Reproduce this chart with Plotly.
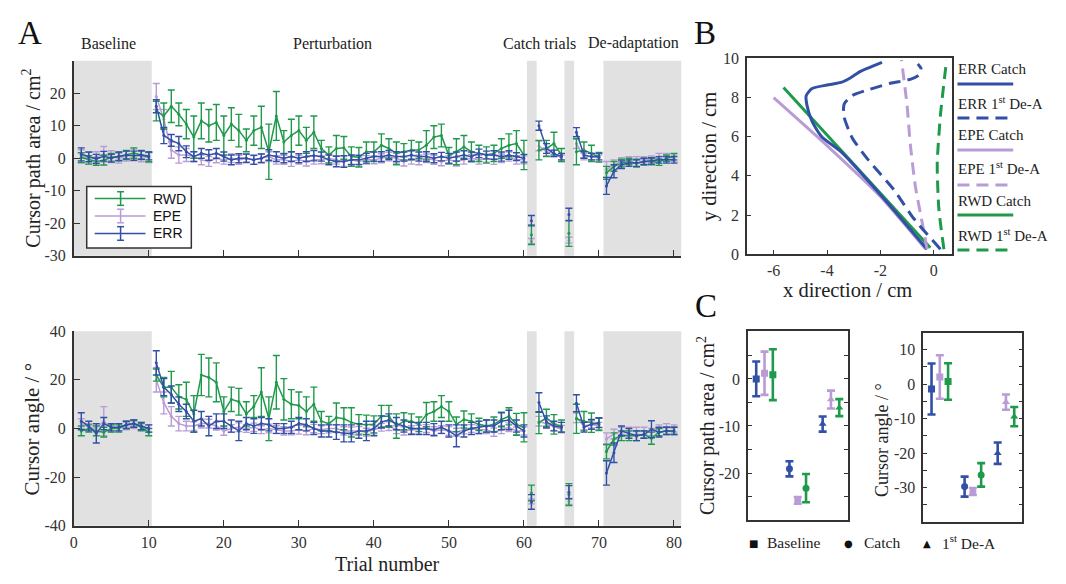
import plotly.graph_objects as go

W, H = 1066, 584
OFF = 8  # the page body adds an 8 px margin; positions below are target pixels
GREEN = "#1f9a4b"
PURPLE = "#b99bd6"
BLUE = "#3150a6"
AX = "#333333"
SERIF = "Liberation Serif"
SANS = "Liberation Sans"

# ---------------- Panel A data (trials 1..80) ----------------
trials = list(range(1, 81))
segments = [(1, 10), (11, 60), (61, 61), (62, 65), (66, 66), (67, 70), (71, 80)]
phase_shading = [(0, 10.4), (60.4, 61.7), (65.4, 66.7), (70.6, 81)]
phase_labels = ["Baseline", "Perturbation", "Catch trials", "De-adaptation"]

area_rwd = [0.2, -0.5, -1.0, -0.6, 0.3, 0.5, 1.0, 1.6, 1.0, 0.4,
            14.5, 13.0, 16.0, 13.5, 10.5, 6.5, 11.5, 10.0, 11.0, 7.0,
            10.5, 8.5, 5.5, 8.5, 9.5, 2.0, 13.0, 5.0, 7.0, 8.5,
            5.5, 8.0, 3.0, 1.0, 3.0, 3.2, 0.5, 0.3, 2.0, 2.0,
            4.0, 3.0, 1.5, 2.0, 2.5, 2.5, 4.0, 6.5, 7.0, 0.8,
            2.0, 3.5, 2.0, 1.5, 1.0, 1.5, 3.0, 4.0, 4.5, 1.0,
            -23.5, 2.5, 3.0, 4.5, 1.0, -23.1, 2.0, 2.5, 1.5, 0.3,
            -4.5, -2.5, -1.5, -1.0, -1.5, -1.0, -1.0, -1.2, 0.0, 0.5]
area_rwd_err = [1.5, 1.3, 1.2, 1.5, 1.2, 1.3, 1.4, 1.6, 1.4, 1.5,
                3.0, 4.0, 5.0, 3.5, 4.5, 6.5, 5.5, 5.0, 5.5, 6.0,
                5.0, 5.0, 3.5, 4.5, 6.5, 8.5, 7.5, 3.5, 5.0, 4.5,
                4.0, 5.0, 2.5, 2.5, 4.0, 3.5, 3.0, 3.0, 3.0, 3.0,
                3.5, 3.0, 3.5, 2.5, 3.0, 2.5, 4.5, 3.5, 3.5, 2.5,
                4.0, 3.5, 3.0, 2.5, 2.5, 2.5, 3.0, 3.5, 4.0, 4.5,
                3.0, 3.0, 2.5, 3.5, 2.0, 4.0, 4.0, 2.5, 2.5, 1.5,
                2.0, 1.5, 1.2, 1.0, 1.2, 1.0, 1.0, 1.0, 1.0, 1.0]
area_epe = [0.6, 0.0, 0.4, 1.2, 0.5, 0.0, 0.6, 1.0, 0.5, 0.2,
            19.0, 12.0, 2.5, 1.0, 1.0, 0.5, -0.5, -1.0, 0.0, -0.5,
            0.0, -0.5, 0.0, -0.5, 0.0, 0.5, -0.5, -0.5, -1.0, -0.5,
            -1.0, -0.5, -0.5, 0.0, -0.5, -1.0, -0.5, -1.0, -0.5, -0.5,
            0.0, 0.5, 0.0, -1.0, -0.5, -0.5, 0.0, -0.5, -1.0, -0.5,
            -1.0, -0.5, 0.0, -0.5, 0.0, -0.5, 0.0, 0.5, -0.5, -0.5,
            -25.5, 3.8, 2.0, 1.5, 0.0, -25.2, 4.5, 0.5, 0.5, 0.0,
            -3.5, -2.0, -1.0, -0.5, -0.5, -0.5, -0.3, 0.5, 0.5, 0.0]
area_epe_err = [2.0, 1.8, 1.6, 2.4, 1.8, 1.5, 1.5, 1.8, 1.6, 1.5,
                4.0, 3.0, 2.5, 2.5, 2.0, 1.5, 1.5, 1.5, 1.4, 1.3,
                1.3, 1.4, 1.2, 1.3, 1.4, 1.5, 1.3, 1.4, 1.5, 1.3,
                1.4, 1.3, 1.2, 1.4, 1.3, 1.5, 1.3, 1.4, 1.3, 1.2,
                1.4, 1.3, 1.5, 1.4, 1.3, 1.5, 1.3, 1.4, 1.3, 1.2,
                1.4, 1.3, 1.2, 1.3, 1.2, 1.4, 1.3, 1.4, 1.3, 1.2,
                0.8, 1.5, 1.2, 1.0, 1.0, 0.9, 1.5, 1.0, 1.0, 1.0,
                2.5, 1.5, 1.2, 1.0, 1.0, 1.0, 1.0, 1.0, 1.0, 1.0]
area_err = [1.2, 0.4, -0.2, 0.6, 0.0, 0.6, 1.0, 0.8, 1.0, 0.7,
            16.0, 7.0, 5.5, 4.5, 2.0, 0.5, 1.5, 1.0, 1.5, 0.5,
            -0.5, 0.0, 0.0, -0.5, 0.0, 1.0, 0.5, 0.0, 0.5, 0.0,
            0.5, 0.8, 0.5, -0.5, -1.0, -1.0, -0.5, -0.5, 0.0, 0.5,
            0.5, 1.0, 0.5, 0.5, 1.0, 0.5, 0.5, 0.0, 0.5, 0.0,
            0.5, 1.0, 0.5, 1.5, 1.0, 1.0, 0.5, 1.0, 0.5, 0.0,
            -19.2, 10.0, 3.0, 1.5, 0.5, -17.3, 8.0, 1.0, 0.5, 0.5,
            -8.5, -4.0, -2.0, -1.5, -1.5, -1.0, -0.8, -0.5, -0.5, -0.5]
area_err_err = [2.0, 1.5, 1.4, 1.5, 1.2, 1.3, 1.2, 1.4, 1.3, 1.2,
                2.0, 2.5, 1.8, 2.2, 1.8, 1.5, 1.5, 1.6, 1.5, 1.4,
                1.5, 1.4, 1.3, 1.4, 1.3, 1.6, 1.5, 1.4, 1.5, 1.4,
                1.5, 1.6, 1.4, 1.5, 1.6, 1.8, 1.5, 1.4, 1.5, 1.4,
                1.5, 1.4, 1.5, 1.4, 1.3, 1.4, 1.5, 1.4, 1.3, 1.5,
                1.4, 1.3, 1.4, 1.3, 1.2, 1.3, 1.4, 1.3, 1.2, 1.2,
                1.6, 1.4, 1.5, 1.0, 1.0, 1.9, 1.4, 1.0, 1.0, 1.0,
                2.6, 2.0, 1.2, 1.0, 1.0, 1.0, 1.0, 1.0, 1.0, 1.0]

angle_rwd = [-1.0, 0.0, -1.0, -1.5, 0.0, 0.0, 1.5, 2.0, 0.5, -1.5,
             22.0, 17.0, 17.0, 13.0, 12.0, 6.0, 22.0, 21.0, 19.0, 7.0,
             12.0, 11.0, 6.0, 9.0, 15.0, 4.0, 19.0, 12.0, 10.0, 9.5,
             7.0, 10.0, 3.0, 2.0, 4.5, 4.0, 2.5, 1.7, 1.5, 1.7,
             5.0, 5.0, 1.0, 3.0, 3.0, 1.7, 5.7, 7.0, 9.0, 7.0,
             1.7, 3.7, 3.0, 1.7, 1.0, 1.7, 3.7, 5.0, 1.7, 0.5,
             -26.5, 2.4, 4.4, 1.7, 1.0, -27.2, 4.0, 3.0, 2.4, 1.7,
             -9.5, -4.3, -3.0, -3.0, -3.0, -2.5, -4.0, -1.5, -1.0, -1.0]
angle_rwd_err = [2.0, 1.5, 2.0, 2.0, 1.5, 1.5, 1.5, 1.5, 1.5, 1.5,
                 2.5, 4.0, 6.5, 5.0, 7.0, 7.5, 8.5, 8.0, 8.0, 6.0,
                 5.0, 5.5, 5.0, 4.5, 10.0, 9.0, 11.0, 8.5, 6.0, 5.5,
                 6.0, 7.0, 4.0, 3.0, 6.0, 4.5, 6.0, 4.0, 4.0, 3.5,
                 4.5, 4.5, 5.0, 3.5, 3.0, 3.0, 5.0, 4.0, 4.5, 4.0,
                 3.0, 3.5, 3.0, 2.5, 2.5, 3.0, 3.0, 3.5, 4.5, 6.0,
                 3.2, 4.5, 3.5, 4.0, 2.5, 4.5, 6.0, 4.0, 4.0, 2.5,
                 3.0, 2.5, 2.0, 2.0, 2.0, 1.5, 2.5, 1.5, 1.5, 1.5]
angle_epe = [2.0, 0.5, 0.0, 3.0, 0.0, 0.5, 1.0, 1.5, 1.0, 0.0,
             20.0, 10.5, 5.0, 2.0, 1.0, 1.0, 2.0, 2.0, 1.0, -1.0,
             0.0, 0.5, 0.0, 0.5, -0.5, 0.0, -0.5, -1.0, -1.0, -0.5,
             -1.0, 0.0, -0.5, 0.0, 0.0, -1.0, -1.0, -1.0, -1.5, -0.5,
             0.5, 1.0, -0.5, -1.0, -0.5, -0.5, 0.0, -1.0, -0.5, -1.0,
             -1.5, -0.5, 0.0, -0.5, -0.5, -1.5, -0.5, 0.5, -1.0, -1.0,
             -30.0, 3.0, 2.0, 0.7, -0.3, -30.0, 4.4, 1.0, 1.7, 1.0,
             -4.3, -2.3, -1.0, -1.0, -1.0, -1.0, -1.5, 0.0, 0.5, 0.0]
angle_epe_err = [2.0, 1.5, 1.5, 6.0, 1.5, 1.5, 1.5, 1.5, 1.5, 1.5,
                 5.0, 4.5, 4.0, 3.0, 2.0, 1.8, 1.8, 1.8, 1.6, 1.8,
                 1.6, 1.8, 1.6, 1.7, 1.6, 1.8, 1.6, 1.7, 1.6, 1.8,
                 1.6, 1.7, 1.6, 1.8, 1.6, 1.7, 1.6, 1.8, 1.6, 1.7,
                 1.6, 1.8, 1.6, 1.7, 1.6, 1.8, 1.6, 1.7, 1.6, 1.8,
                 1.6, 1.7, 1.6, 1.8, 1.6, 1.7, 1.6, 1.8, 1.6, 1.7,
                 1.0, 2.0, 1.5, 1.5, 1.5, 1.2, 2.0, 1.5, 1.5, 1.5,
                 2.5, 2.0, 1.5, 1.5, 1.5, 1.5, 1.5, 1.5, 1.5, 1.5]
angle_err = [3.0, 1.0, -2.0, 2.0, 0.5, 0.5, 1.5, 2.0, 1.0, 0.0,
             27.0, 17.0, 14.0, 10.0, 7.0, 3.0, 4.0, 1.0, 3.0, 3.0,
             1.0, -1.0, 2.0, 1.0, 2.0, 1.5, 0.0, 0.0, 0.5, 2.0,
             1.5, 0.0, -1.0, -1.0, -1.5, -2.0, -2.0, -1.0, -1.0, 0.0,
             2.7, 3.5, 2.0, 1.0, 0.0, 0.0, 0.0, -0.5, 0.5, -1.0,
             -3.0, -1.0, 0.0, 0.5, 1.0, 1.0, 3.0, 3.5, 1.0, -1.0,
             -30.2, 10.7, 2.7, 1.0, 0.5, -26.2, 10.4, 0.5, 1.7, 2.4,
             -18.3, -10.0, -1.0, -2.0, -3.0, -2.5, -0.3, -1.5, -1.0, -1.0]
angle_err_err = [3.5, 2.0, 4.0, 2.5, 1.5, 1.5, 1.5, 1.5, 1.5, 1.5,
                 5.0, 3.5, 3.5, 3.0, 3.0, 4.5, 3.0, 4.0, 3.0, 3.0,
                 2.5, 4.0, 2.5, 3.0, 2.5, 2.5, 2.0, 2.0, 2.5, 2.5,
                 2.5, 2.5, 2.5, 2.5, 3.0, 3.5, 3.5, 3.0, 4.0, 3.0,
                 2.5, 2.5, 2.5, 2.5, 2.5, 2.5, 2.5, 2.5, 2.5, 2.5,
                 4.5, 2.5, 2.5, 2.5, 2.5, 2.5, 3.5, 4.0, 2.5, 2.5,
                 3.0, 4.0, 2.5, 2.0, 2.0, 2.7, 3.5, 2.0, 2.0, 2.0,
                 5.0, 4.0, 2.0, 2.0, 2.0, 1.5, 3.5, 2.0, 1.5, 1.5]

# ---------------- Panel B data (trajectories, cm) ----------------
err_catch_x = [-0.25, -1.85, -3.45, -4.2, -4.56, -4.75, -4.78, -4.56, -4.0, -3.44, -3.13, -2.75, -2.31, -1.94]
err_catch_y = [0.25, 2.81, 5.2, 6.0, 6.78, 7.6, 8.1, 8.46, 8.64, 8.79, 9.0, 9.34, 9.59, 9.8]
err_dea_x = [0.25, -0.75, -1.5, -2.44, -3.06, -3.38, -3.35, -3.06, -2.38, -1.63, -0.88, -0.53, -0.48, -0.6]
err_dea_y = [0.25, 1.82, 3.3, 4.79, 5.95, 7.1, 7.69, 8.1, 8.43, 8.73, 8.93, 9.17, 9.5, 9.72]
epe_catch_x = [-0.3, -2.0, -4.0, -6.0]
epe_catch_y = [0.25, 2.95, 5.55, 8.0]
epe_dea_x = [-0.25, -0.44, -0.69, -0.88, -1.0, -1.21]
epe_dea_y = [0.25, 1.65, 3.47, 5.62, 7.6, 9.92]
rwd_catch_x = [-0.13, -5.63]
rwd_catch_y = [0.33, 8.51]
rwd_dea_x = [0.38, 0.19, 0.13, 0.25, 0.48]
rwd_dea_y = [0.25, 2.31, 4.63, 7.1, 9.92]
b_legend = ["ERR Catch", "ERR 1<sup>st</sup> De-A", "EPE Catch",
            "EPE 1<sup>st</sup> De-A", "RWD Catch", "RWD 1<sup>st</sup> De-A"]

# ---------------- Panel C data ----------------
c_groups = ["Baseline", "Catch", "1<sup>st</sup> De-A"]
c_area_err = [0.0, -19.1, -9.6];  c_area_err_e = [3.7, 1.6, 1.6]
c_area_epe = [1.2, -25.8, -4.4];  c_area_epe_e = [4.6, 0.7, 1.9]
c_area_rwd = [0.9, -23.2, -6.1];  c_area_rwd_e = [5.4, 3.0, 1.8]
c_ang_err = [-1.4, -29.7, -20.0]; c_ang_err_e = [7.4, 2.9, 3.1]
c_ang_epe = [2.1, -31.1, -5.2];   c_ang_epe_e = [6.3, 1.0, 2.2]
c_ang_rwd = [0.8, -26.3, -9.4];   c_ang_rwd_e = [5.3, 3.4, 2.8]
c_symbols = ["square", "circle", "triangle-up"]


def px(x):
    return (x - OFF) / W


def py(y):
    return 1 - (y - OFF) / H


def seg(vals):
    out = []
    for a, b in segments:
        out += [vals[t - 1] for t in range(a, b + 1)] + [None]
    return out


def seg_err(vals):
    out = []
    for a, b in segments:
        out += [vals[t - 1] for t in range(a, b + 1)] + [0]
    return out


seg_x = seg(trials)

fig = go.Figure()

# Panel A traces
for (m, e, c, name), (xa, ya) in [
    ((area_epe, area_epe_err, PURPLE, "EPE"), ("x", "y")),
    ((area_rwd, area_rwd_err, GREEN, "RWD"), ("x", "y")),
    ((area_err, area_err_err, BLUE, "ERR"), ("x", "y")),
    ((angle_epe, angle_epe_err, PURPLE, "EPE"), ("x2", "y2")),
    ((angle_rwd, angle_rwd_err, GREEN, "RWD"), ("x2", "y2")),
    ((angle_err, angle_err_err, BLUE, "ERR"), ("x2", "y2")),
]:
    fig.add_trace(go.Scatter(
        x=seg_x, y=seg(m), mode="lines+markers", name=name,
        xaxis=xa, yaxis=ya, showlegend=False, connectgaps=False,
        line=dict(color=c, width=1.5), marker=dict(color=c, size=3),
        error_y=dict(type="data", array=seg_err(e), visible=True,
                     color=c, thickness=1.4, width=3.5)))

# Panel B traces
for xs, ys, c, dash in [
    (epe_catch_x, epe_catch_y, PURPLE, "solid"),
    (rwd_catch_x, rwd_catch_y, GREEN, "solid"),
    (err_catch_x, err_catch_y, BLUE, "solid"),
    (epe_dea_x, epe_dea_y, PURPLE, "12px,7px"),
    (rwd_dea_x, rwd_dea_y, GREEN, "12px,7px"),
    (err_dea_x, err_dea_y, BLUE, "12px,7px"),
]:
    fig.add_trace(go.Scatter(
        x=xs, y=ys, mode="lines", xaxis="x3", yaxis="y3", showlegend=False,
        line=dict(color=c, width=3, dash=dash, shape="spline", smoothing=0.6)))

# Panel C traces
offsets = {"ERR": -0.25, "EPE": 0.0, "RWD": 0.25}
for xa, ya, data in [
    ("x4", "y4", [("ERR", c_area_err, c_area_err_e, BLUE),
                  ("EPE", c_area_epe, c_area_epe_e, PURPLE),
                  ("RWD", c_area_rwd, c_area_rwd_e, GREEN)]),
    ("x5", "y5", [("ERR", c_ang_err, c_ang_err_e, BLUE),
                  ("EPE", c_ang_epe, c_ang_epe_e, PURPLE),
                  ("RWD", c_ang_rwd, c_ang_rwd_e, GREEN)]),
]:
    for name, m, e, c in data:
        fig.add_trace(go.Scatter(
            x=[i + 1 + offsets[name] for i in range(len(c_groups))], y=m,
            mode="markers", xaxis=xa, yaxis=ya, showlegend=False,
            marker=dict(color=c, size=7, symbol=c_symbols),
            error_y=dict(type="data", array=e, visible=True, color=c,
                         thickness=2.6, width=4)))

tick_font = dict(family=SERIF, size=16, color=AX)
common = dict(showline=True, linecolor=AX, linewidth=1.5, showgrid=False,
              zeroline=False, ticks="inside", ticklen=6, tickcolor=AX,
              tickwidth=1.2, tickfont=tick_font)
minor5 = dict(dtick=5, ticks="inside", ticklen=4, tickcolor=AX, tickwidth=1.2,
              showgrid=False)


def labs(vals):
    return [str(v) for v in vals]


xA = list(range(0, 81, 10))
yA1 = [-30, -20, -10, 0, 10, 20]
yA2 = [-40, -20, 0, 20, 40]
xB = [-6, -4, -2, 0]
yB = [0, 2, 4, 6, 8, 10]
yC1 = [-20, -10, 0]
yC2 = [-30, -20, -10, 0, 10]

fig.update_layout(
    width=W, height=H, margin=dict(l=0, r=0, t=0, b=0),
    paper_bgcolor="white", plot_bgcolor="rgba(0,0,0,0)",
    font=dict(family=SERIF, color=AX),
    xaxis=dict(common, domain=[px(70), px(680)], range=[0, 81], anchor="y",
               tickvals=xA, showticklabels=False),
    yaxis=dict(common, domain=[py(255), py(54)], range=[-30, 30], anchor="x",
               tickvals=yA1, ticktext=labs(yA1), ticklabelstandoff=3),
    xaxis2=dict(common, domain=[px(70), px(680)], range=[0, 81], anchor="y2",
                tickvals=xA, ticktext=labs(xA), ticklabelstandoff=1),
    yaxis2=dict(common, domain=[py(533), py(332.7)], range=[-40, 40], anchor="x2",
                tickvals=yA2, ticktext=labs(yA2), ticklabelstandoff=3),
    xaxis3=dict(common, domain=[px(745.7), px(952)], range=[-7, 0.7], anchor="y3",
                tickvals=xB, ticktext=labs(xB), mirror=True, ticklen=4,
                ticklabelstandoff=1),
    yaxis3=dict(common, domain=[py(253.3), py(51.7)], range=[0, 10], anchor="x3",
                tickvals=yB, ticktext=labs(yB), mirror=True, ticklen=4,
                ticklabelstandoff=3),
    xaxis4=dict(common, domain=[px(746.7), px(846.7)], range=[0.5, 3.5], anchor="y4",
                mirror=True, ticks="", showticklabels=False),
    yaxis4=dict(common, domain=[py(527.3), py(332.3)], range=[-30, 10.2], anchor="x4",
                mirror="ticks", ticklen=4, tickvals=yC1, ticktext=labs(yC1),
                minor=minor5, ticklabelstandoff=3),
    xaxis5=dict(common, domain=[px(922.7), px(1022.3)], range=[0.5, 3.5], anchor="y5",
                mirror=True, ticks="", showticklabels=False),
    yaxis5=dict(common, domain=[py(529.3), py(334)], range=[-40, 15], anchor="x5",
                mirror="ticks", ticklen=4, tickvals=yC2, ticktext=labs(yC2),
                minor=minor5, ticklabelstandoff=3),
)

# Shaded phases in both panel A plots
for x0, x1 in phase_shading:
    for xr, yr in [("x", "y domain"), ("x2", "y2 domain")]:
        fig.add_shape(type="rect", xref=xr, yref=yr, x0=x0, x1=x1, y0=0, y1=1,
                      fillcolor="#e1e1e1", line_width=0, layer="below")

ann = []


def text(x, y, s, size=15, anchor="center", angle=0, family=SERIF, color="#222"):
    ann.append(dict(x=px(x), y=py(y), xref="paper", yref="paper", text=s,
                    showarrow=False, xanchor=anchor, yanchor="middle",
                    textangle=angle, font=dict(family=family, size=size, color=color)))


# panel letters
text(26, 26, "A", size=33, color="#111")
text(704, 25, "B", size=33, color="#111")
text(705, 307, "C", size=33, color="#111")

# phase labels
for lab, xc in zip(phase_labels, [105, 330, 537, 632]):
    text(xc, 36, lab, size=16)

# axis titles
text(28, 154, "Cursor path area / cm<sup>2</sup>", size=20, angle=-90)
text(28, 433, "Cursor angle / °", size=21, angle=-90)
text(385, 572, "Trial number", size=20)
text(708, 153, "y direction / cm", size=20.5, angle=-90)
text(847, 290, "x direction / cm", size=20.5)
text(705, 430, "Cursor path area / cm<sup>2</sup>", size=20, angle=-90)
text(882, 445, "Cursor angle / °", size=18, angle=-90)

# Panel A legend (drawn box)
fig.add_shape(type="rect", xref="paper", yref="paper", x0=px(83), x1=px(188),
              y0=py(247), y1=py(183.5), line=dict(color=AX, width=1.5),
              fillcolor="white")
for lab, c, yy in [("RWD", GREEN, 196), ("EPE", PURPLE, 214), ("ERR", BLUE, 232)]:
    fig.add_shape(type="line", xref="paper", yref="paper", x0=px(91), x1=px(142),
                  y0=py(yy), y1=py(yy), line=dict(color=c, width=1.5))
    fig.add_shape(type="line", xref="paper", yref="paper", x0=px(117), x1=px(117),
                  y0=py(yy - 7), y1=py(yy + 7), line=dict(color=c, width=1.5))
    for dy in (-7, 7):
        fig.add_shape(type="line", xref="paper", yref="paper", x0=px(113.5), x1=px(120.5),
                      y0=py(yy + dy), y1=py(yy + dy), line=dict(color=c, width=1.5))
    text(148, yy, lab, size=14, anchor="left", family=SANS, color="#111")

# Panel B legend
b_cols = [BLUE, BLUE, PURPLE, PURPLE, GREEN, GREEN]
b_dash = ["solid", "12px,7px"] * 3
b_text_y = [63, 98, 131, 165, 199, 234]
b_line_y = [78, 113, 146, 182, 213, 249]
for lab, c, d, ty, ly in zip(b_legend, b_cols, b_dash, b_text_y, b_line_y):
    text(956, ty, lab, size=15, anchor="left")
    fig.add_shape(type="line", xref="paper", yref="paper", x0=px(957), x1=px(1013),
                  y0=py(ly), y1=py(ly), line=dict(color=c, width=3, dash=d))

# Panel C marker legend
for glyph, gx, lab, tx in [("■", 752, "Baseline", 764), ("●", 848, "Catch", 861),
                           ("▲", 926, "1<sup>st</sup> De-A", 939)]:
    text(gx, 551, glyph, size=10, family="DejaVu Sans", color="#111")
    text(tx, 550, lab, size=15.5, anchor="left")

fig.update_layout(annotations=ann)
fig.write_html("out.html")
